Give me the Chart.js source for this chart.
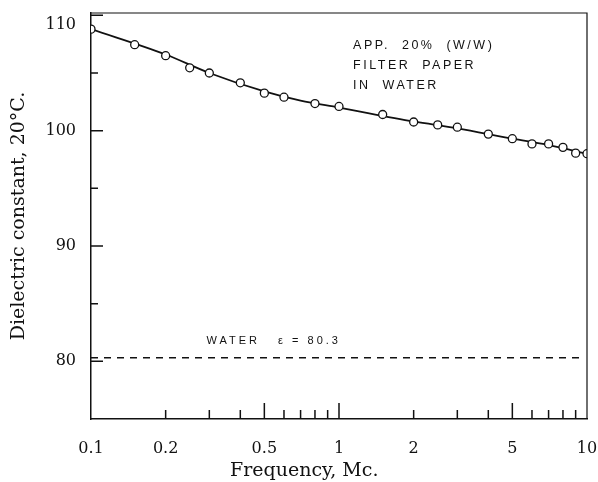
<!DOCTYPE html>
<html>
<head>
<meta charset="utf-8">
<script src="https://cdn.jsdelivr.net/npm/chart.js@4/dist/chart.umd.min.js"></script>
<style>
  body { margin: 0; background: #fff; }
  canvas { display: block; }
</style>
</head>
<body>
<canvas id="chart" width="598" height="482"></canvas>
<script>
// measured points, frequency in Mc.
var freq = [0.1, 0.15, 0.2, 0.25, 0.3, 0.4, 0.5, 0.6, 0.8, 1, 1.5, 2, 2.5, 3, 4, 5, 6, 7, 8, 9, 10];
var dielectric = [108.8, 107.45, 106.5, 105.45, 105.0, 104.15, 103.25, 102.9, 102.35, 102.1, 101.4, 100.75, 100.5, 100.3, 99.7, 99.3, 98.85, 98.85, 98.55, 98.05, 98.0];

// smooth curve drawn through them
var curveFreq = [0.1, 0.2, 0.3, 0.5, 0.7, 1, 2, 3, 5, 7, 10];
var curveValue = [108.8, 106.6, 105.0, 103.4, 102.6, 102.0, 100.8, 100.2, 99.3, 98.75, 98.0];

// water reference line
var waterFreq = [0.1, 9.7];
var waterValue = [80.3, 80.3];

// axis ticks
var xLabelTicks = [0.1, 0.2, 0.5, 1, 2, 5, 10];
var xLongTicks = [0.5, 1, 5];
var xShortTicks = [0.2, 0.3, 0.4, 0.6, 0.7, 0.8, 0.9, 2, 3, 4, 6, 7, 8, 9];
var yLabelTicks = [80, 90, 100, 110];
var yMinorTicks = [85, 95, 105];

function toXY(xs, ys) {
  var out = [];
  for (var i = 0; i < xs.length; i++) out.push({x: xs[i], y: ys[i]});
  return out;
}

var serif = '"DejaVu Serif", "Liberation Serif", serif';
var letters = '"Liberation Sans", "DejaVu Sans", sans-serif';

// inward ticks, closed frame and lettering
var paperPlugin = {
  id: 'paper',
  afterDraw: function(chart) {
    var ctx = chart.ctx;
    var a = chart.chartArea;
    var xs = chart.scales.x, ys = chart.scales.y;
    ctx.save();
    ctx.strokeStyle = '#111';
    ctx.lineWidth = 1.2;
    ctx.beginPath();
    ctx.moveTo(a.left, a.top);
    ctx.lineTo(a.right, a.top);
    ctx.lineTo(a.right, a.bottom);
    ctx.stroke();

    ctx.lineWidth = 1.5;
    ctx.beginPath();
    yLabelTicks.forEach(function(v) {
      var p = ys.getPixelForValue(v);
      ctx.moveTo(a.left, p); ctx.lineTo(a.left + 12, p);
    });
    yMinorTicks.forEach(function(v) {
      var p = ys.getPixelForValue(v);
      ctx.moveTo(a.left, p); ctx.lineTo(a.left + 7, p);
    });
    xLongTicks.forEach(function(v) {
      var p = xs.getPixelForValue(v);
      ctx.moveTo(p, a.bottom); ctx.lineTo(p, a.bottom - 16);
    });
    xShortTicks.forEach(function(v) {
      var p = xs.getPixelForValue(v);
      ctx.moveTo(p, a.bottom); ctx.lineTo(p, a.bottom - 9);
    });
    ctx.stroke();

    ctx.fillStyle = '#111';
    ctx.textBaseline = 'middle';
    ctx.textAlign = 'left';
    ctx.font = '12.5px ' + letters;
    ctx.letterSpacing = '2.5px';
    var tx = xs.getPixelForValue(1.14);
    ctx.fillText('APP.  20%  (W/W)', tx, ys.getPixelForValue(107.4));
    ctx.fillText('FILTER  PAPER', tx, ys.getPixelForValue(105.65));
    ctx.fillText('IN  WATER', tx, ys.getPixelForValue(103.9));

    ctx.font = '11px ' + letters;
    ctx.letterSpacing = '3px';
    ctx.fillText('WATER   \u03b5 = 80.3', xs.getPixelForValue(0.292), ys.getPixelForValue(81.8));

    // x axis title, set a little left of centre as in the original
    ctx.letterSpacing = '0px';
    ctx.textAlign = 'center';
    ctx.font = '19px ' + serif;
    ctx.fillText('Frequency, Mc.', a.left + (a.right - a.left) * 0.43, 471);
    ctx.restore();
  }
};

var myChart = new Chart(document.getElementById('chart').getContext('2d'), {
  type: 'scatter',
  data: {
    datasets: [{
      label: 'measured',
      data: toXY(freq, dielectric),
      showLine: false,
      pointRadius: 4,
      pointBackgroundColor: '#fff',
      pointBorderColor: '#111',
      pointBorderWidth: 1.3
    }, {
      label: 'curve',
      data: toXY(curveFreq, curveValue),
      showLine: true,
      cubicInterpolationMode: 'monotone',
      borderColor: '#111',
      borderWidth: 1.8,
      pointRadius: 0
    }, {
      label: 'water',
      data: toXY(waterFreq, waterValue),
      showLine: true,
      borderColor: '#111',
      borderWidth: 1.5,
      borderDash: [7, 6],
      pointRadius: 0
    }]
  },
  options: {
    responsive: false,
    devicePixelRatio: 1,
    animation: false,
    layout: { padding: { top: 13, right: 11, bottom: 0, left: 0 } },
    plugins: { legend: { display: false }, tooltip: { enabled: false } },
    scales: {
      x: {
        type: 'logarithmic',
        min: 0.1,
        max: 10,
        afterBuildTicks: function(scale) {
          scale.ticks = xLabelTicks.map(function(v) { return {value: v}; });
        },
        afterFit: function(scale) {
          scale.height = 63;
          scale.paddingLeft = 0;
          scale.paddingRight = 0;
        },
        grid: { drawOnChartArea: false, drawTicks: false },
        border: { display: true, color: '#111', width: 1.5 },
        ticks: {
          autoSkip: false,
          maxRotation: 0,
          padding: 20,
          color: '#111',
          font: { family: serif, size: 16 },
          callback: function(v) { return String(v); }
        },
        title: { display: false }
      },
      y: {
        min: 75,
        max: 110.2,
        afterBuildTicks: function(scale) {
          scale.ticks = yLabelTicks.map(function(v) { return {value: v}; });
        },
        afterFit: function(scale) {
          scale.width = 91;
          scale.paddingTop = 0;
          scale.paddingBottom = 0;
        },
        grid: { drawOnChartArea: false, drawTicks: false },
        border: { display: true, color: '#111', width: 1.5 },
        ticks: {
          padding: 15,
          color: '#111',
          font: { family: serif, size: 16 },
          // top label sits just below the frame, as printed
          callback: function(v) { return v === 110 ? ['', '110'] : String(v); }
        },
        title: {
          display: true,
          text: 'Dielectric constant, 20\u00b0C.',
          color: '#111',
          font: { family: serif, size: 19 },
          padding: { top: 8, bottom: 0 }
        }
      }
    }
  },
  plugins: [paperPlugin]
});
</script>
</body>
</html>
